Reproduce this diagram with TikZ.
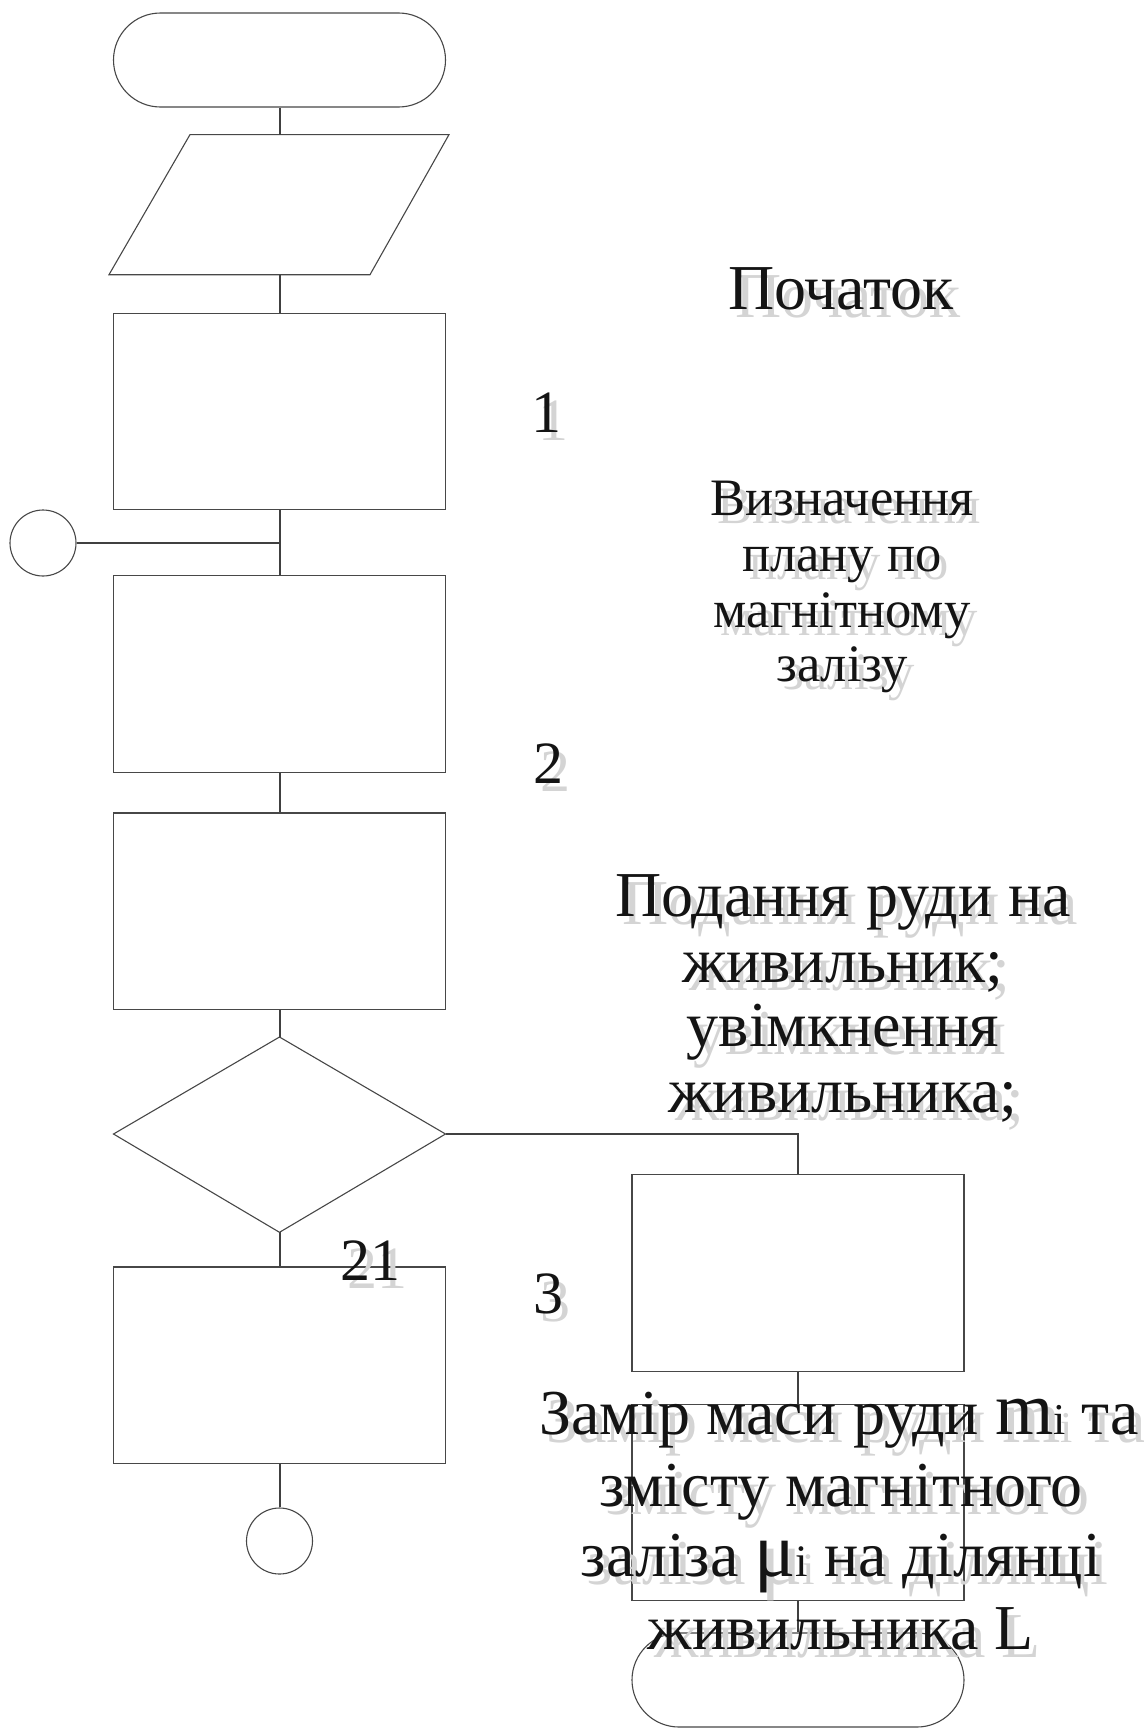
\documentclass[tikz,border=0pt]{standalone}
\usepackage{fontspec}
\setmainfont{Liberation Serif}
\usetikzlibrary{shapes.misc,calc}
\newcommand\tline[5]{%
  \node[shd,#2] (#1s) at (#3,#4) {#5};
  \node[txt,#2] (#1) at (#3,#4) {#5};}
\begin{document}
\begin{tikzpicture}[x=0.5pt,y=-0.5pt,
  fig/.style={draw=black!72, line width=0.55pt, fill=white},
  box/.style={fig, rectangle, minimum width=166pt, minimum height=98.2pt, inner sep=0pt},
  term/.style={fig, rounded rectangle, minimum width=166pt, minimum height=47pt, inner sep=0pt},
  conn/.style={fig, circle, minimum size=33pt, inner sep=0pt},
  link/.style={draw=black!75, line width=1pt},
  txt/.style={anchor=base, inner sep=0pt, text=black!92},
  shd/.style={anchor=base, inner sep=0pt, text=black!17, xshift=3.5pt, yshift=-4pt},
  fbig/.style={font=\fontsize{32pt}{36pt}\selectfont},
  fdig/.style={font=\fontsize{30pt}{36pt}\selectfont},
  fmid/.style={font=\fontsize{26.3pt}{30pt}\selectfont}]
\useasboundingbox (0,0) rectangle (1144,1729);
% left column
\node[term] (t1) at (279.5,60) {};
\draw[fig] (190,134.6) -- (449,134.6) -- (370,274.7) -- (109,274.7) -- cycle;
\coordinate (pt) at (279.5,134.6);
\coordinate (pb) at (279.5,274.7);
\node[box] (b1) at (279.5,411.5) {};
\node[box] (b2) at (279.5,674) {};
\node[box] (b3) at (279.5,911.2) {};
\draw[fig] (279.5,1037) -- (445.5,1134) -- (279.5,1232.3) -- (113.5,1134) -- cycle;
\coordinate (dT) at (279.5,1037);
\coordinate (dR) at (445.5,1134);
\coordinate (dB) at (279.5,1232.3);
\node[box] (b4) at (279.5,1365.2) {};
\node[conn] (cb) at (279.5,1541) {};
\node[conn] (cl) at (43,543) {};
\coordinate (j) at (279.5,543);
% right column
\node[box] (b5) at (798,1273) {};
\node[box] (b6) at (798,1502.5) {};
\node[term] (t2) at (798,1680) {};
% connectors
\draw[link] (t1.south) -- (pt);
\draw[link] (pb) -- (b1.north);
\draw[link] (b1.south) -- (b2.north);
\draw[link] (cl.east) -- (j);
\draw[link] (b2.south) -- (b3.north);
\draw[link] (b3.south) -- (dT);
\draw[link] (dB) -- (b4.north);
\draw[link] (b4.south) -- (cb.north);
\draw[link] (dR) -| (b5.north);
\draw[link] (b5.south) -- (b6.north);
\draw[link] (b6.south) -- (t2.north);
% texts
\tline{tp}{fbig}{841}{309}{Початок}
\tline{n1}{fdig}{546}{432}{1}
\tline{v1}{fmid}{842}{515}{Визначення}
\tline{v2}{fmid}{842}{571}{плану по}
\tline{v3}{fmid}{842}{627}{магнітному}
\tline{v4}{fmid}{842}{681}{залізу}
\tline{n2}{fdig}{548}{783}{2}
\tline{p1}{fbig}{843}{916}{Подання руди на}
\tline{p2}{fbig}{843}{982}{живильник;}
\tline{p3}{fbig}{843}{1046}{увімкнення}
\tline{p4}{fbig}{843}{1112}{живильника;}
\tline{n21}{fdig}{370}{1280}{21}
\tline{n3}{fdig}{548}{1313}{3}
\tline{z1}{fbig}{839}{1434}{Замір маси руди {\fontsize{37.5pt}{36pt}\selectfont m}{\fontsize{22pt}{24pt}\selectfont i} та}
\tline{z2}{fbig}{841}{1506}{змісту магнітного}
\tline{z3}{fbig}{841}{1576}{заліза {\fontsize{38.5pt}{36pt}\selectfont μ}{\fontsize{22.5pt}{24pt}\selectfont i} на ділянці}
\tline{z4}{fbig}{841}{1649}{живильника L}
\end{tikzpicture}
\end{document}
